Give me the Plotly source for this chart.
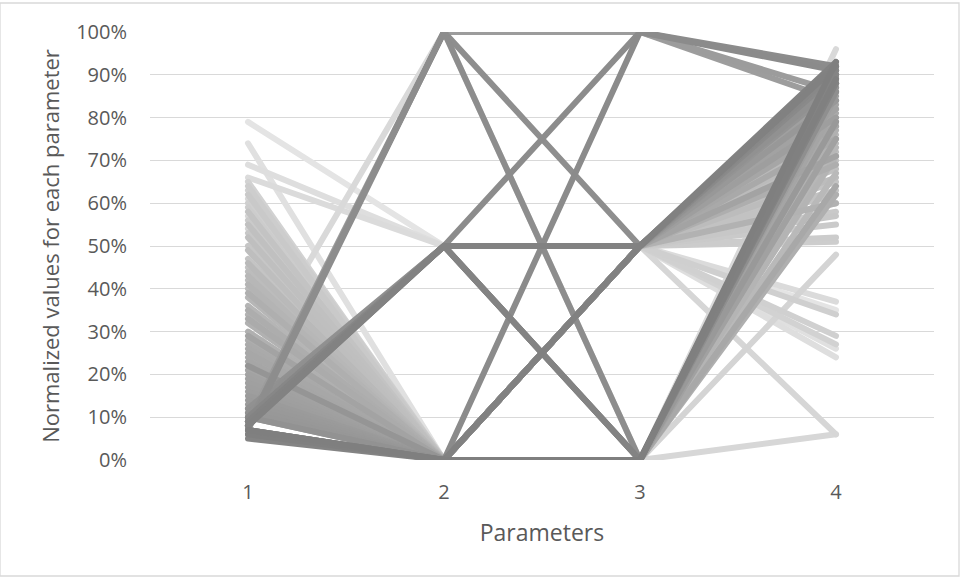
import plotly.graph_objects as go

# Parallel-coordinate profiles: one polyline per design, four normalized parameters.
parameters = [1, 2, 3, 4]

# Normalized value of each parameter, one entry per design (lightest-drawn first)
param_1 = [0.79, 0.74, 0.69, 0.66, 0.22, 0.61, 0.57, 0.54, 0.65, 0.63,
           0.60, 0.64, 0.59, 0.56, 0.62, 0.53, 0.50, 0.47, 0.58, 0.45,
           0.55, 0.52, 0.49, 0.44, 0.42, 0.40, 0.46, 0.43, 0.38, 0.36,
           0.41, 0.34, 0.32, 0.30, 0.39, 0.28, 0.35, 0.33, 0.27, 0.26,
           0.24, 0.25, 0.23, 0.21, 0.29, 0.20, 0.19, 0.18, 0.17, 0.16,
           0.08, 0.09, 0.15, 0.14, 0.13, 0.12, 0.11, 0.10, 0.22, 0.09,
           0.08, 0.10, 0.12, 0.11, 0.10, 0.08, 0.07, 0.09, 0.06, 0.07,
           0.08, 0.09, 0.10, 0.06, 0.07, 0.05, 0.09, 0.08, 0.07, 0.06,
           0.07]
param_2 = [0.5, 0.0, 0.5, 0.5, 1.0, 0.0, 0.0, 0.0, 0.0, 0.0,
           0.0, 0.0, 0.0, 0.0, 0.0, 0.0, 0.0, 0.0, 0.0, 0.0,
           0.0, 0.0, 0.0, 0.0, 0.0, 0.0, 0.0, 0.0, 0.0, 0.0,
           0.0, 0.0, 0.0, 0.0, 0.0, 0.0, 0.0, 0.0, 0.0, 0.0,
           0.0, 0.0, 0.0, 0.0, 0.0, 0.0, 0.0, 0.0, 0.0, 0.0,
           1.0, 1.0, 0.0, 0.0, 0.0, 0.0, 0.0, 0.0, 0.0, 0.5,
           0.5, 0.0, 0.5, 0.5, 0.5, 1.0, 1.0, 0.5, 0.0, 0.0,
           0.5, 0.5, 0.5, 0.0, 0.0, 0.0, 0.5, 0.5, 0.0, 0.0,
           0.0]
param_3 = [0.5, 0.5, 0.5, 0.5, 0.0, 0.0, 0.5, 0.0, 0.5, 0.5,
           0.5, 0.5, 0.5, 0.5, 0.5, 0.5, 0.5, 0.5, 0.5, 0.5,
           0.5, 0.5, 0.5, 0.5, 0.5, 0.5, 0.0, 0.0, 0.5, 0.5,
           0.0, 0.5, 0.0, 0.5, 0.0, 0.5, 0.0, 0.5, 0.0, 0.5,
           0.0, 0.5, 0.5, 0.0, 0.5, 0.5, 0.0, 0.5, 0.0, 0.5,
           1.0, 1.0, 0.0, 0.5, 0.0, 0.5, 0.0, 0.5, 0.5, 0.5,
           0.5, 0.0, 0.5, 0.0, 0.0, 0.5, 0.0, 1.0, 1.0, 0.5,
           0.0, 0.5, 0.5, 0.0, 0.0, 0.0, 0.0, 0.5, 0.5, 0.0,
           0.0]
param_4 = [0.35, 0.26, 0.24, 0.37, 0.96, 0.06, 0.06, 0.48, 0.27, 0.29,
           0.34, 0.51, 0.52, 0.55, 0.58, 0.57, 0.60, 0.62, 0.65, 0.63,
           0.68, 0.70, 0.72, 0.66, 0.74, 0.76, 0.67, 0.73, 0.78, 0.80,
           0.71, 0.60, 0.77, 0.82, 0.62, 0.69, 0.79, 0.84, 0.81, 0.75,
           0.64, 0.86, 0.78, 0.83, 0.71, 0.82, 0.75, 0.86, 0.85, 0.80,
           0.84, 0.86, 0.87, 0.88, 0.79, 0.84, 0.89, 0.90, 0.88, 0.87,
           0.89, 0.88, 0.88, 0.90, 0.86, 0.91, 0.90, 0.92, 0.91, 0.90,
           0.89, 0.91, 0.92, 0.90, 0.91, 0.92, 0.88, 0.93, 0.92, 0.89,
           0.93]

y_ticks = [0, 0.1, 0.2, 0.3, 0.4, 0.5, 0.6, 0.7, 0.8, 0.9, 1.0]
y_tick_labels = ["0%", "10%", "20%", "30%", "40%", "50%", "60%",
                 "70%", "80%", "90%", "100%"]

TEXT = "#595959"
GRID = "#d9d9d9"
FONT = "Open Sans, Arial, sans-serif"

fig = go.Figure()
n = len(param_1)
light, dark = 228, 127
for i in range(n):
    g = round(light - (light - dark) * (i / (n - 1)) ** 0.75)
    fig.add_trace(go.Scatter(
        x=parameters,
        y=[param_1[i], param_2[i], param_3[i], param_4[i]],
        mode="lines",
        line=dict(color=f"rgb({g},{g},{g})", width=6),
        showlegend=False,
        hoverinfo="skip",
    ))

fig.update_layout(
    width=961, height=579,
    margin=dict(l=150, r=27, t=32, b=119),
    paper_bgcolor="white", plot_bgcolor="white",
    font=dict(family=FONT, color=TEXT, size=20),
    xaxis=dict(
        range=[0.5, 4.5], tickmode="array", tickvals=parameters,
        ticktext=[str(p) for p in parameters],
        showgrid=False, zeroline=False, showline=False, ticks="",
        ticklabelstandoff=18,
        title=dict(text="Parameters", font=dict(size=23, color=TEXT), standoff=20),
        tickfont=dict(size=20, color=TEXT),
    ),
    yaxis=dict(
        range=[0, 1], tickmode="array", tickvals=y_ticks, ticktext=y_tick_labels,
        showgrid=True, gridcolor=GRID, gridwidth=1.3, zeroline=False,
        showline=False, ticks="", ticklabelstandoff=22,
        title=dict(text="Normalized values for each parameter",
                   font=dict(size=22, color=TEXT), standoff=10),
        tickfont=dict(size=20, color=TEXT),
    ),
    shapes=[dict(type="rect", xref="paper", yref="paper",
                 x0=-150 / 784, x1=(784 + 25) / 784,
                 y0=-116 / 428, y1=(428 + 29) / 428,
                 line=dict(color=GRID, width=1.3), fillcolor="rgba(0,0,0,0)",
                 layer="below")],
)

round_caps = """
document.querySelectorAll('.scatterlayer path.js-line').forEach(function(p){
  p.style.strokeLinecap = 'round';
  p.style.strokeLinejoin = 'round';
});
"""

fig.write_html("out.html", post_script=round_caps)
